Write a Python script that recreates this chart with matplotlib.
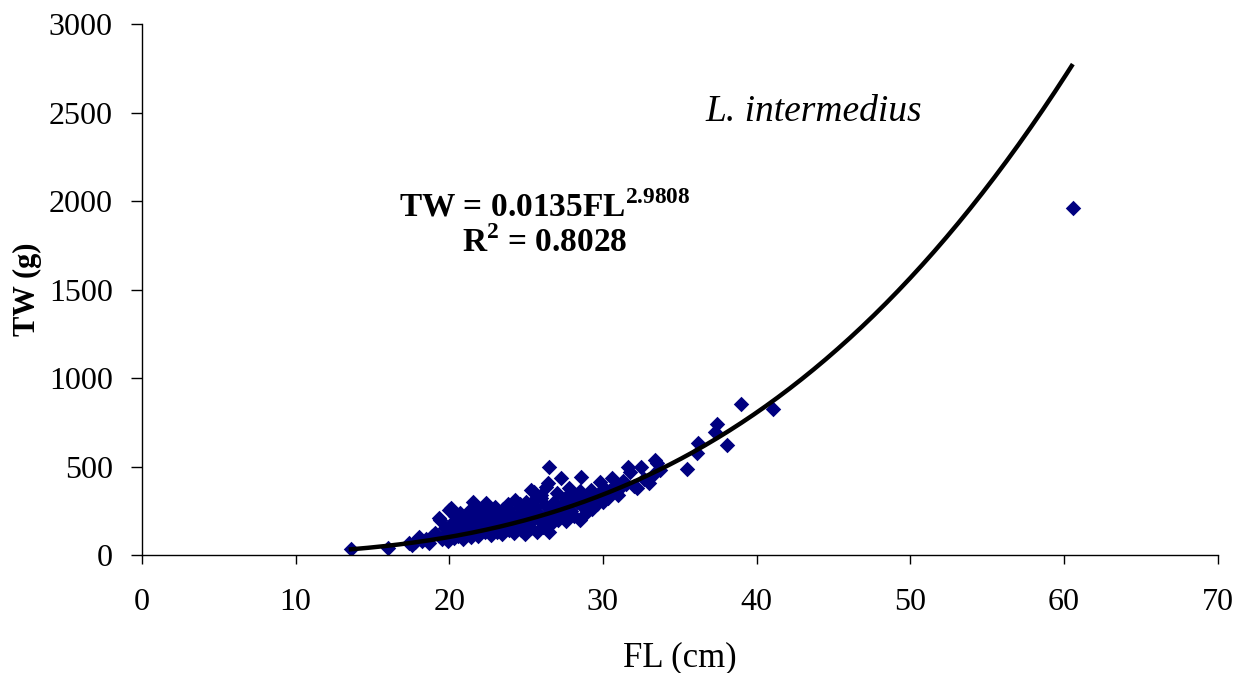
import numpy as np
import matplotlib.pyplot as plt

plt.rcParams['mathtext.fontset'] = 'custom'
plt.rcParams['mathtext.rm'] = 'Liberation Serif'
plt.rcParams['mathtext.bf'] = 'Liberation Serif:bold'

# fork length (cm) and total weight (g)
fl = [13.6, 16.0, 17.4, 17.6, 17.8, 18.0, 18.2, 18.5, 18.7, 18.9,
      19.1, 19.3, 19.4, 19.5, 19.7, 19.8, 19.9, 20.0, 20.0, 20.1,
      20.2, 20.3, 20.4, 20.5, 20.6, 20.7, 20.8, 20.9, 20.9,
      21.0, 21.1, 21.2, 21.3, 21.4, 21.5, 21.55, 21.6, 21.7, 21.8,
      21.9, 22.0, 22.1, 22.2, 22.3, 22.4, 22.5, 22.6, 22.7, 22.8,
      22.9, 22.9, 23.0, 23.1, 23.2, 23.3, 23.4, 23.5, 23.6, 23.7,
      23.8, 23.9, 24.0, 24.1, 24.2, 24.3, 24.4, 24.5, 24.6, 24.7,
      24.8, 24.9, 24.9, 25.0, 25.1, 25.2, 25.3, 25.35, 25.5, 25.5,
      25.6, 25.7, 25.8, 25.9, 26.0, 26.1, 26.2, 26.3, 26.4, 26.4,
      26.5, 26.5, 26.6, 26.7, 26.8, 26.9, 27.0, 27.1, 27.2, 27.3,
      27.4, 27.5, 27.6, 27.7, 27.8, 27.9, 28.0, 28.1, 28.3, 28.5,
      28.5, 28.6, 28.7, 28.8, 28.9, 29.0, 29.2, 29.3, 29.5, 29.6,
      29.8, 29.9, 30.0, 30.1, 30.3, 30.4, 30.6, 30.8, 31.0, 31.1,
      31.3, 31.5, 31.6, 31.75, 32.0, 32.2, 32.5, 32.7, 33.0, 33.3,
      33.5, 33.7, 33.4, 35.5, 36.1, 36.2, 37.3, 37.4, 38.1, 39.0,
      41.05, 60.6,
      19.6, 20.3, 21.0, 21.8, 22.5, 23.2, 24.0, 24.7, 25.4, 26.2,
      27.0, 27.8, 20.6, 21.4, 22.2, 23.0, 23.8, 24.6, 25.4, 26.0]
tw = [34, 40, 66, 55, 72, 103, 80, 90, 70, 110,
      123, 207, 198, 90, 150, 110, 80, 254, 130, 264,
      180, 95, 220, 150, 110, 240, 190, 130, 90,
      210, 160, 120, 250, 100, 180, 301, 220, 140, 270,
      110, 200, 160, 264, 130, 292, 220, 180, 115, 250,
      150, 200, 270, 130, 180, 230, 120, 260, 160, 200,
      290, 140, 240, 180, 125, 311, 220, 160, 270, 140,
      200, 250, 120, 300, 180, 230, 150, 367, 358, 210,
      270, 130, 240, 190, 320, 160, 280, 386, 405, 220,
      499, 132, 260, 180, 300, 230, 350, 200, 270, 435,
      240, 320, 190, 290, 380, 250, 330, 220, 300, 198,
      360, 442, 270, 330, 240, 300, 370, 260, 330, 290,
      414, 350, 301, 380, 320, 360, 435, 390, 340, 378,
      420, 400, 497, 470, 390, 378, 499, 430, 407, 460,
      520, 480, 537, 484, 576, 634, 697, 738, 621, 853,
      825, 1960,
      100, 115, 125, 140, 150, 160, 175, 185, 200, 215,
      230, 250, 170, 200, 230, 240, 260, 290, 300, 340]

# power fit from the chart
a = 0.0135
b = 2.9808

fig = plt.figure(figsize=(12.45, 6.73), dpi=100)
ax = fig.add_axes([0.114, 0.1753, 0.864, 0.789])

ax.scatter(fl, tw, marker='D', s=62, color='#000080', linewidths=0, zorder=2)

x_fit = np.linspace(min(fl), 60.5, 300)
ax.plot(x_fit, a * x_fit**b, color='black', lw=3.2, zorder=3)

ax.set_xlim(0, 70)
ax.set_ylim(0, 3000)
ax.set_xticks(range(0, 71, 10))
ax.set_yticks(range(0, 3001, 500))
for s in ['top', 'right']:
    ax.spines[s].set_visible(False)
for s in ['left', 'bottom']:
    ax.spines[s].set_linewidth(1.0)
ax.tick_params(axis='x', direction='out', length=6.5, width=1.0,
               labelsize=23, pad=17.5)
ax.tick_params(axis='y', direction='out', length=8, width=1.0,
               labelsize=23, pad=13)
for lab in ax.get_xticklabels() + ax.get_yticklabels():
    lab.set_family('Liberation Serif')

ax.set_xlabel('FL (cm)', family='Liberation Serif', fontsize=25, labelpad=17)
ax.set_ylabel('TW (g)', family='Liberation Serif', fontsize=22,
              fontweight='bold', labelpad=5)

ax.text(43.7, 2503, 'L. intermedius', family='Liberation Serif',
        style='italic', fontsize=27, ha='center', va='center')
ax.text(26.2, 1966, r'TW = 0.0135FL$^{\mathbf{2.9808}}$', family='Liberation Serif',
        fontweight='bold', fontsize=24, ha='center', va='center')
ax.text(26.2, 1763, r'R$^{\mathbf{2}}$ = 0.8028', family='Liberation Serif',
        fontweight='bold', fontsize=24, ha='center', va='center')

fig.savefig('out.png', dpi=100)
